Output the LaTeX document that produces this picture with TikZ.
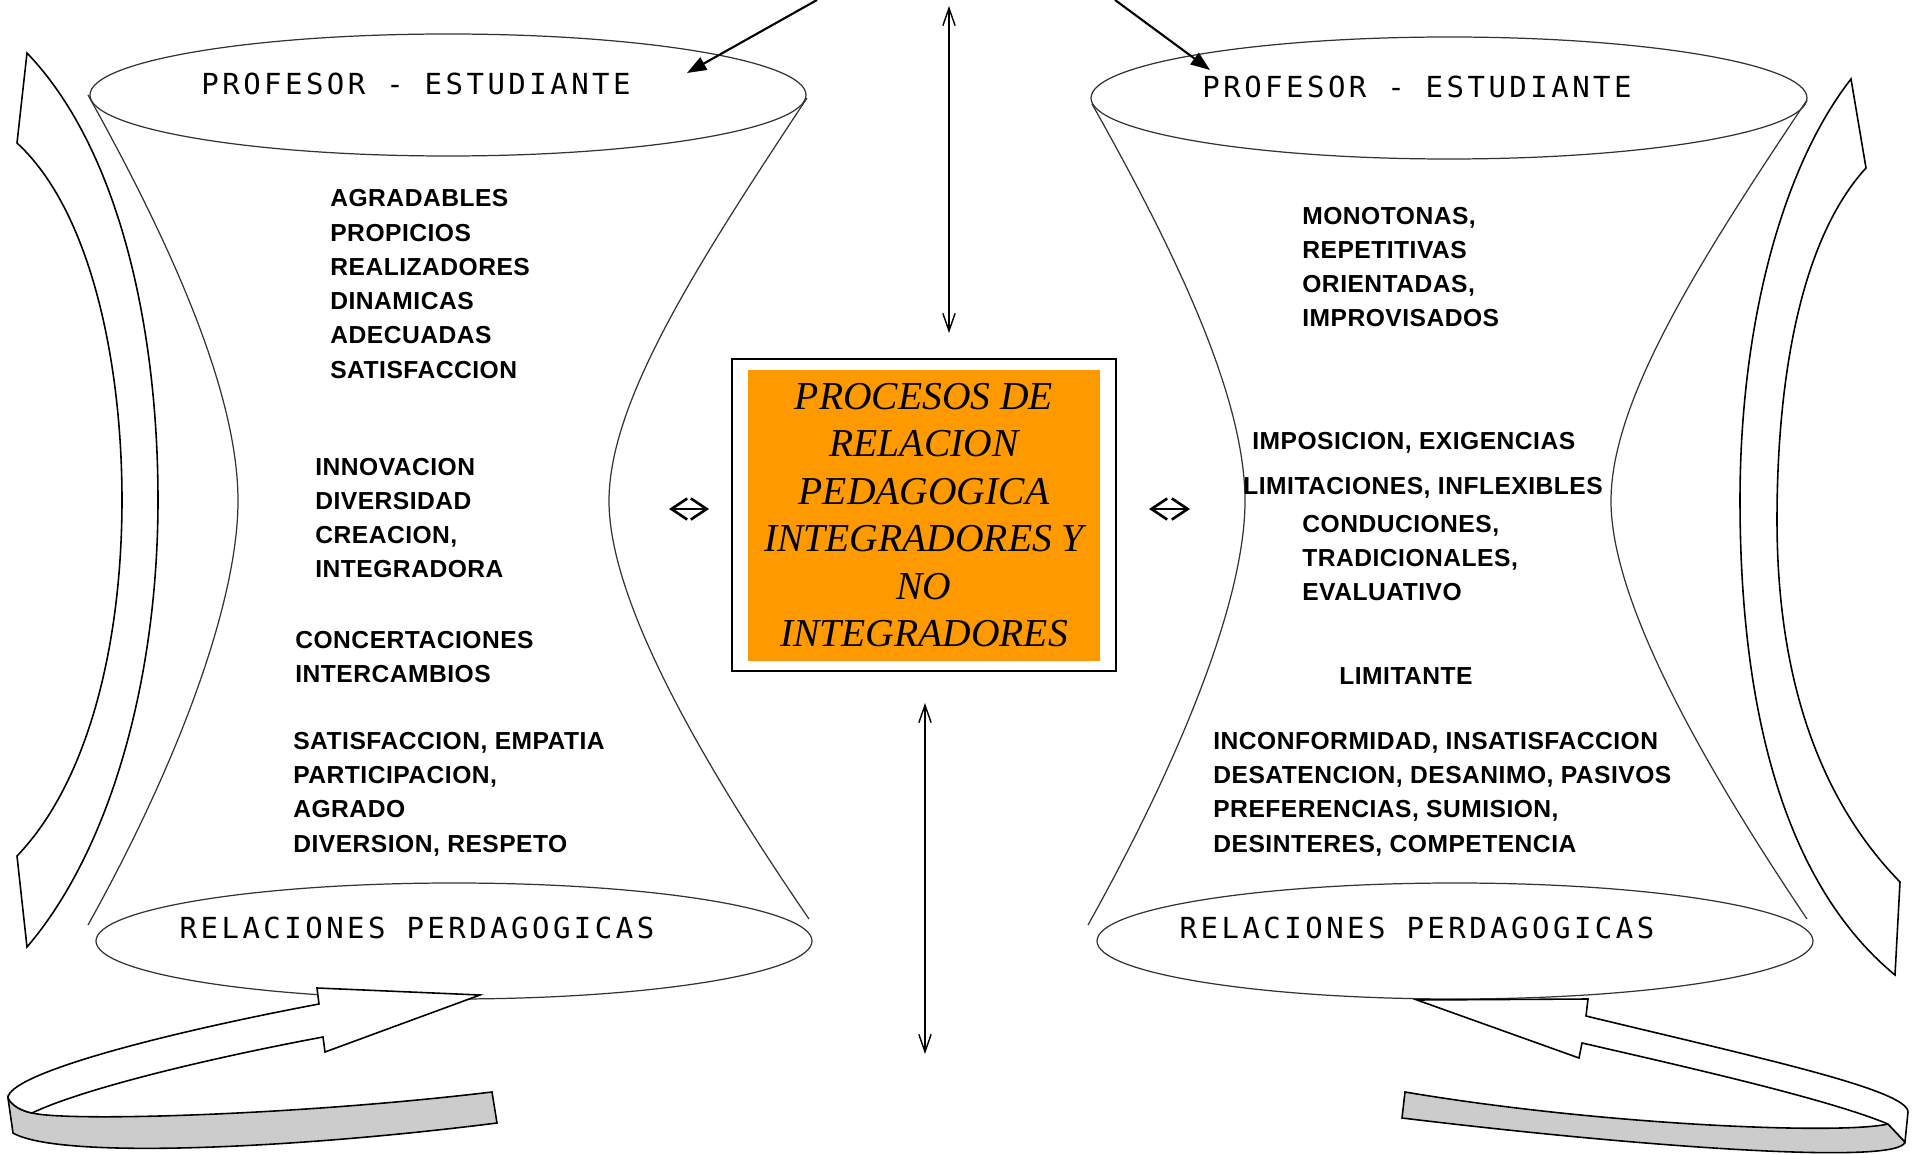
\documentclass[tikz,border=0pt]{standalone}
\usepackage{fontspec}
\usepackage{tikz}
\usetikzlibrary{arrows.meta}
\newfontfamily\rimfont[LetterSpace=12]{DejaVu Sans Mono}
\newfontfamily\listfont[LetterSpace=2]{Liberation Sans}
\newfontfamily\titlefont{Liberation Serif}
\definecolor{boxorange}{rgb}{1.0, 0.6, 0.0}
\definecolor{bandgray}{rgb}{0.8, 0.8, 0.8}
\tikzstyle{rim}=[line width=0.7pt, color=black!80]
\tikzstyle{rimtext}=[inner sep=0pt, font=\rimfont\fontsize{16.5}{20}\selectfont]
\tikzstyle{words}=[inner sep=0pt, anchor=west, align=left, font=\listfont\bfseries\fontsize{14}{19.5}\selectfont]
\tikzstyle{ribbon}=[line width=0.9pt, fill=white, line join=miter]
\tikzstyle{band}=[ribbon, fill=bandgray]
\tikzstyle{twoway}=[line width=0.8pt, {Straight Barb[length=10pt,width=7pt]}-{Straight Barb[length=10pt,width=7pt]}]
\tikzstyle{pointer}=[line width=1.2pt, -{Triangle[length=11pt,width=8pt]}]
\tikzstyle{swap}=[line width=1.5pt, {Straight Barb[length=9pt,width=12pt]}-{Straight Barb[length=9pt,width=12pt]}]
\begin{document}
\begin{tikzpicture}[x=0.2mm, y=-0.2mm]
			\useasboundingbox (0,0) rectangle (1917,1155);
			% sides of the two funnels
			\draw[rim] (88,95) .. controls (180,260) and (238,400) .. (238,501) .. controls (238,600) and (180,760) .. (88,925);
			\draw[rim] (807,98) .. controls (700,260) and (609,400) .. (609,501) .. controls (609,600) and (700,760) .. (809,919);
			\draw[rim] (1092,104) .. controls (1180,260) and (1245,400) .. (1245,501) .. controls (1245,600) and (1180,760) .. (1088,925);
			\draw[rim] (1807,100) .. controls (1700,260) and (1611,400) .. (1611,501) .. controls (1611,600) and (1700,760) .. (1807,919);
			% the rims, using a loop
			\foreach \cx/\cy/\ry in {448/95/61, 454/941/58, 1449/98/61, 1455/941/58}{
				\draw[rim] (\cx,\cy) ellipse [x radius=358, y radius=\ry];
			}
			\node[rimtext] (lprof) at (416,84) {PROFESOR - ESTUDIANTE};
			\node[rimtext] (rprof) at (1417,87) {PROFESOR - ESTUDIANTE};
			\node[rimtext] (lrel) at (417,928) {RELACIONES PERDAGOGICAS};
			\node[rimtext] (rrel) at (1417,928) {RELACIONES PERDAGOGICAS};
			% curved arrows at the sides
			\draw[ribbon] (27,53) -- (17,143) .. controls (90,210) and (122,360) .. (122,500) .. controls (122,640) and (90,780) .. (17,856)
				-- (27,947) .. controls (110,850) and (158,680) .. (158,500) .. controls (158,330) and (120,150) .. cycle;
			\draw[ribbon] (1851,79) -- (1866,168) .. controls (1800,240) and (1777,380) .. (1777,520) .. controls (1777,680) and (1820,800) .. (1900,882)
				-- (1895,975) .. controls (1780,880) and (1740,700) .. (1740,500) .. controls (1740,330) and (1780,170) .. cycle;
			% turning arrows below
			\draw[band] (8,1098) .. controls (12,1106) and (22,1111) .. (32,1113) .. controls (70,1122) and (300,1115) .. (492,1092)
				-- (497,1123) .. controls (300,1148) and (60,1160) .. (13,1133) -- cycle;
			\draw[ribbon] (480,995) -- (317,988) -- (319,1004) .. controls (150,1036) and (8,1075) .. (8,1098)
				.. controls (12,1106) and (22,1111) .. (32,1113) .. controls (80,1090) and (200,1060) .. (323,1037) -- (325,1052) -- cycle;
			\draw[band] (1888,1124) -- (1905,1142) .. controls (1900,1165) and (1650,1148) .. (1402,1118) -- (1405,1092)
				.. controls (1600,1125) and (1840,1135) .. cycle;
			\draw[ribbon] (1417,1000) -- (1588,999) -- (1586,1016) .. controls (1760,1058) and (1908,1090) .. (1908,1112) -- (1905,1142)
				-- (1888,1124) .. controls (1830,1100) and (1700,1070) .. (1582,1043) -- (1579,1058) -- cycle;
			% words in the funnels
			\node[words] (nice) at (330,284) {AGRADABLES\\PROPICIOS\\REALIZADORES\\DINAMICAS\\ADECUADAS\\SATISFACCION};
			\node[words] (inno) at (315,518) {INNOVACION\\DIVERSIDAD\\CREACION,\\INTEGRADORA};
			\node[words] (conc) at (295,657) {CONCERTACIONES\\INTERCAMBIOS};
			\node[words] (sati) at (293,794) {SATISFACCION, EMPATIA\\PARTICIPACION,\\AGRADO\\DIVERSION, RESPETO};
			\node[words] (mono) at (1302,267) {MONOTONAS,\\REPETITIVAS\\ORIENTADAS,\\IMPROVISADOS};
			\node[words] (impo) at (1252,443) {IMPOSICION, EXIGENCIAS};
			\node[words] (limi) at (1243,488) {LIMITACIONES, INFLEXIBLES};
			\node[words] (cond) at (1302,558) {CONDUCIONES,\\TRADICIONALES,\\EVALUATIVO};
			\node[words] (limt) at (1339,676) {LIMITANTE};
			\node[words] (inco) at (1213,794) {INCONFORMIDAD, INSATISFACCION\\DESATENCION, DESANIMO, PASIVOS\\PREFERENCIAS, SUMISION,\\DESINTERES, COMPETENCIA};
			% central box
			\draw[line width=1.2pt] (732,359) rectangle (1116,671);
			\fill[boxorange] (748,370) rectangle (1100,661);
			\node[align=center, inner sep=0pt, font=\titlefont\itshape\fontsize{22.5}{27}\selectfont] (title) at (924,515)
				{PROCESOS DE\\RELACION\\PEDAGOGICA\\INTEGRADORES Y\\NO\\INTEGRADORES};
			% arrows
			\coordinate (ltop) at (817,0);
			\coordinate (lhead) at (687,73);
			\coordinate (rtop) at (1115,0);
			\coordinate (rhead) at (1210,70);
			\coordinate (up1) at (949,6);
			\coordinate (up2) at (949,333);
			\coordinate (dn1) at (925,703);
			\coordinate (dn2) at (925,1054);
			\coordinate (sl1) at (669,509);
			\coordinate (sl2) at (709,509);
			\coordinate (sr1) at (1149,509);
			\coordinate (sr2) at (1190,509);
			\draw[pointer] (ltop) -- (lhead);
			\draw[pointer] (rtop) -- (rhead);
			\draw[twoway] (up1) -- (up2);
			\draw[twoway] (dn1) -- (dn2);
			\draw[swap] (sl1) -- (sl2);
			\draw[swap] (sr1) -- (sr2);
		\end{tikzpicture}
\end{document}
